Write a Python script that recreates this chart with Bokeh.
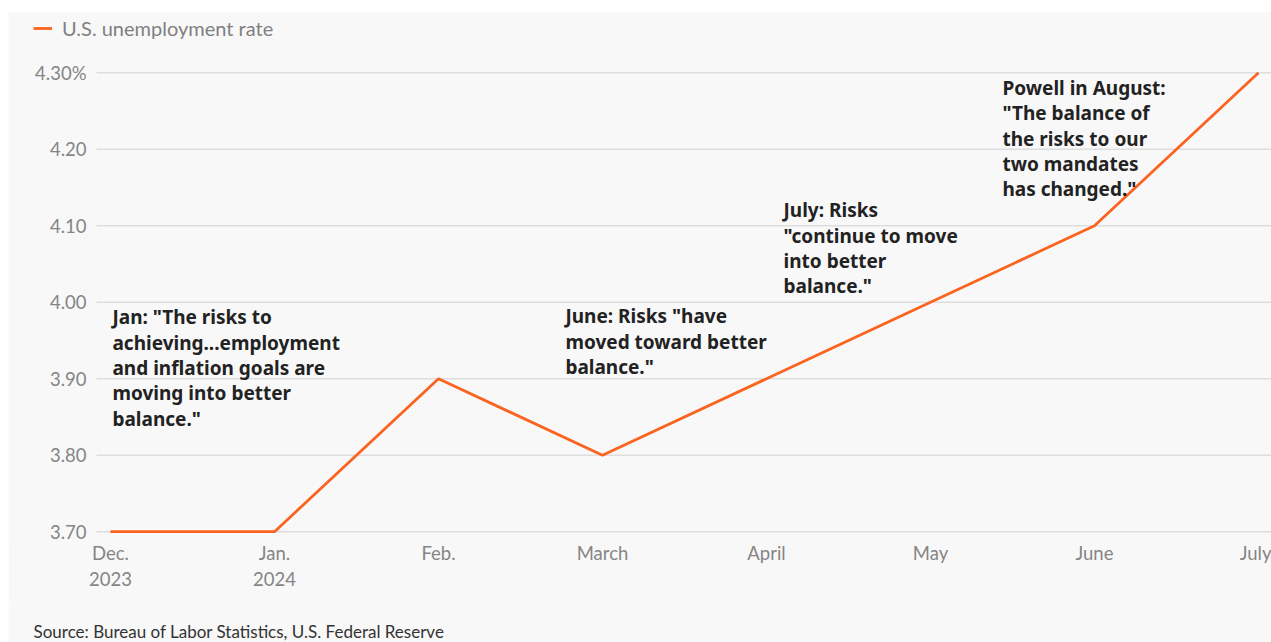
from bokeh.plotting import figure
from bokeh.layouts import column
from bokeh.models import FixedTicker, Legend, LegendItem, Label, Range1d
from bokeh.embed import file_html
from bokeh.resources import INLINE
from bokeh.core.properties import value

# ---- data ----
months = ["Dec.\n2023", "Jan.\n2024", "Feb.", "March", "April", "May", "June", "July"]
unemployment_rate = [3.7, 3.7, 3.9, 3.8, 3.9, 4.0, 4.1, 4.3]
y_ticks = [3.7, 3.8, 3.9, 4.0, 4.1, 4.2, 4.3]
y_tick_labels = ["3.70", "3.80", "3.90", "4.00", "4.10", "4.20", "4.30%"]
notes = [
    'Jan: "The risks to\nachieving...employment\nand inflation goals are\nmoving into better\nbalance."',
    'June: Risks "have\nmoved toward better\nbalance."',
    'July: Risks\n"continue to move\ninto better\nbalance."',
    'Powell in August:\n"The balance of\nthe risks to our\ntwo mandates\nhas changed."',
]
series_name = "U.S. unemployment rate"
source_text = "Source: Bureau of Labor Statistics, U.S. Federal Reserve"

x_idx = list(range(len(months)))

BG = "#f8f8f8"
ORANGE = "#fa6420"
W = 1263

# ---- main chart ----
X0, X1 = -0.62195, 7.0793          # horizontal view
GRID_X0 = -0.08537                  # where horizontal rules begin
p = figure(width=W, height=593, output_backend="svg", toolbar_location=None,
           x_range=Range1d(X0, X1), y_range=Range1d(3.6846, 4.3788),
           y_axis_type=None,
           min_border_left=0, min_border_right=0, min_border_top=0, min_border_bottom=62,
           margin=(12, 0, 0, 8))
p.background_fill_color = BG
p.border_fill_color = BG
p.outline_line_color = None
p.xgrid.visible = False

# horizontal rules at each y tick
p.segment(x0=[GRID_X0] * len(y_ticks), x1=[X1] * len(y_ticks), y0=y_ticks, y1=y_ticks,
          line_color="#dddddd", line_width=1.5)
# y tick labels
p.text(x=[-0.1463] * len(y_ticks), y=y_ticks, text=y_tick_labels,
       text_font=value("Lato"), text_font_size="18.5px", text_color="#858585",
       text_align="right", text_baseline="middle")

p.xaxis.ticker = FixedTicker(ticks=x_idx)
p.xaxis.major_label_overrides = {i: m for i, m in zip(x_idx, months)}
ax = p.xaxis[0]
ax.axis_line_color = None
ax.major_tick_line_color = None
ax.minor_tick_line_color = None
ax.major_label_text_font = "Lato"
ax.major_label_text_color = "#858585"
ax.major_label_text_font_size = "18.5px"
ax.major_label_standoff = -8
ax.major_label_text_line_height = 1.21

line = p.line(x_idx, unemployment_rate, color=ORANGE, line_width=2.8)

note_x = [0.012, 2.774, 4.104, 5.439]
note_y = [3.9971, 3.9984, 4.1371, 4.2971]
p.text(x=note_x, y=note_y, text=notes, text_font=value("Noto Sans"),
       text_font_style="bold", text_font_size="19px", text_color="#222222",
       text_baseline="top", text_align="left", text_line_height=0.973)

legend = Legend(items=[LegendItem(label=series_name, renderers=[line])],
                location=(25, 503), padding=0, margin=0, spacing=0,
                glyph_width=19, glyph_height=22, label_standoff=10,
                label_height=22,
                label_text_font="Lato", label_text_font_size="20px",
                label_text_color="#808080", border_line_color=None,
                background_fill_alpha=0)
p.add_layout(legend)

# ---- source strip ----
bottom = figure(width=W, height=37, output_backend="svg", toolbar_location=None,
                x_axis_type=None, y_axis_type=None,
                x_range=Range1d(0, W), y_range=Range1d(0, 37),
                min_border_left=0, min_border_right=0, min_border_top=0, min_border_bottom=0,
                margin=(0, 0, 0, 8))
bottom.background_fill_color = BG
bottom.border_fill_color = BG
bottom.outline_line_color = None
bottom.add_layout(Label(x=25, y=11, text=source_text, text_font="Lato",
                        text_font_size="17px", text_color="#333333",
                        text_baseline="middle", text_align="left"))

layout = column(p, bottom, spacing=0)
open("out.html", "w").write(file_html(layout, INLINE))
